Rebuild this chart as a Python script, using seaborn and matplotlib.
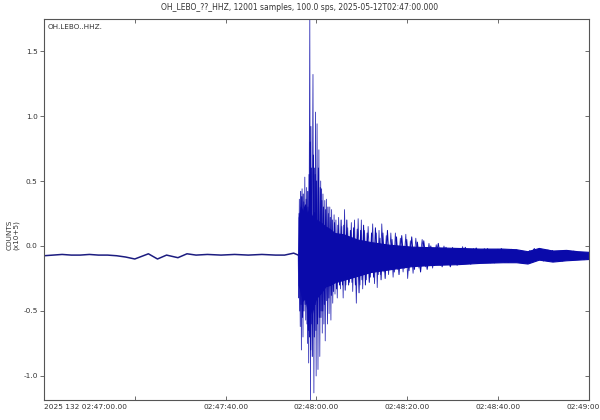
import matplotlib
matplotlib.use("Agg")
import numpy as np
import pandas as pd
import matplotlib.pyplot as plt
import seaborn as sns
from matplotlib.ticker import FormatStrFormatter

# quiet trace before the event (seconds after 02:47:00, counts x1e5)
pre_t = [0, 2, 4, 6, 8, 10, 12, 14, 16, 18, 20, 21.5, 23, 25, 27, 29.5, 31.5,
         33.5, 36, 39, 42, 45, 48, 51, 53, 55, 56.0]
pre_y = [-0.075, -0.07, -0.065, -0.07, -0.07, -0.065, -0.07, -0.07, -0.075, -0.085,
         -0.10, -0.08, -0.06, -0.10, -0.07, -0.09, -0.06, -0.07, -0.065, -0.07,
         -0.065, -0.07, -0.065, -0.07, -0.07, -0.055, -0.07]

# solid core of the coda
core_t = [56.0, 56.1, 56.6, 57.0, 57.5, 58.0, 58.5, 59.0, 59.5, 60.0, 61.0, 62.0, 63.0, 64.0,
          66.0, 69.0, 72.0, 76.0, 81.0, 86.0, 91.0, 96.0, 101.0, 104.0, 106.5, 109.0, 112.0,
          115.0, 117.5, 120.0]
core_hi = [-0.06, 0.22, 0.30, 0.26, 0.32, 0.24, 0.30, 0.22, 0.26, 0.20, 0.18, 0.15, 0.13, 0.10,
           0.09, 0.05, 0.03, 0.01, -0.005, -0.01, -0.015, -0.02, -0.02, -0.025, -0.04, -0.015,
           -0.035, -0.03, -0.04, -0.045]
core_lo = [-0.08, -0.30, -0.36, -0.42, -0.40, -0.48, -0.45, -0.52, -0.44, -0.40, -0.36, -0.31,
           -0.30, -0.28, -0.26, -0.23, -0.20, -0.18, -0.155, -0.145, -0.14, -0.13, -0.125,
           -0.125, -0.135, -0.105, -0.12, -0.11, -0.105, -0.10]

# largest peaks and troughs
spike_t = [56.0, 56.1, 56.25, 56.45, 56.6, 56.7, 56.85, 57.05, 57.2, 57.3, 57.45, 57.65, 57.85,
           58.05, 58.15, 58.3, 58.55, 58.7, 58.8, 58.95, 59.25, 59.45, 59.6, 59.7, 59.8, 59.95,
           60.15, 60.35, 60.55, 60.75, 60.95, 61.05, 61.15, 61.3, 61.45, 61.65, 61.85, 61.95,
           62.2, 62.45, 62.65, 62.8, 62.95, 63.2, 63.35, 63.6, 63.9, 64.1, 64.3, 64.6, 64.9,
           65.3, 65.6, 65.9, 66.2, 66.5, 66.9, 67.3, 67.7, 68.0, 68.4, 68.8, 69.2, 69.6, 69.9,
           70.2, 70.6, 71.0, 71.4, 71.9, 72.4, 72.8, 73.2, 73.4, 73.8, 74.1, 74.4, 74.9, 75.4,
           75.9, 76.4, 76.9, 77.4, 77.9, 78.5, 79.1, 79.7, 80.1, 80.7, 81.3, 81.9, 82.6, 83.3,
           84.0, 84.8, 85.6, 86.4, 87.3, 88.1, 89.0, 90.0, 91.0, 92.2, 93.4, 94.6, 95.8, 97.0,
           98.4, 100.0, 101.5, 103.0, 105.0, 107.0, 109.0, 111.0, 113.0, 115.5, 118.0, 120.0]
spike_y = [-0.07, -0.40, 0.36, -0.62, 0.30, -0.80, 0.44, -0.70, 0.34, -0.32, 0.53, -0.57, 0.45,
           -0.75, 0.30, -0.90, 1.746, -1.185, 0.92, -0.60, 1.32, -1.13, 0.60, -0.45, 1.03, -1.00,
           0.94, -0.95, 0.74, -0.85, 0.50, -0.50, 0.44, -0.67, 0.40, -0.60, 0.35, -0.73,
           0.36, -0.60, 0.25, -0.52, 0.30, -0.57, 0.28, -0.44, 0.24, -0.37, 0.20, -0.40, 0.22,
           -0.33, 0.15, -0.40, 0.28, -0.30, 0.14, -0.28, 0.18, -0.35, 0.20, -0.44, 0.21, -0.30, 0.20,
           -0.33, 0.12, -0.26, 0.15, -0.24, 0.17, -0.29, 0.10, -0.32, 0.12, -0.22, 0.17, -0.20, 0.08,
           -0.22, 0.10, -0.24, 0.10, -0.18, 0.06, -0.20, 0.09, -0.25, 0.04, -0.21, 0.06, -0.17, 0.05,
           -0.16, 0.02, -0.17, 0.01, -0.15, 0.0, -0.14, -0.01, -0.15, -0.005, -0.13, -0.02, -0.13, -0.02,
           -0.13, -0.025, -0.125, -0.025, -0.12, -0.035, -0.11, -0.03, -0.11, -0.04, -0.10, -0.07]

# smaller swings between the big ones
wig_t = [56.2, 56.35, 56.55, 56.65, 56.8, 56.95, 57.1, 57.25, 57.4, 57.55, 57.75, 57.95, 58.1,
         58.25, 58.4, 58.5, 58.65, 58.75, 58.9, 59.1, 59.35, 59.55, 59.75, 59.9, 60.05, 60.25,
         60.45, 60.65, 60.85, 61.0, 61.2, 61.4, 61.55, 61.75, 62.05, 62.3, 62.55, 62.75, 63.05,
         63.3, 63.5, 63.75, 64.0, 64.45, 64.75, 65.1, 65.45, 65.75, 66.05, 66.35, 66.7, 67.1,
         67.5, 67.85, 68.2, 68.6, 69.0, 69.4, 69.75, 70.05, 70.4, 70.8, 71.2, 71.65, 72.15, 72.6,
         73.0, 73.6, 74.0, 74.25, 74.65, 75.15, 75.65, 76.15, 76.65, 77.15, 77.65, 78.2, 78.8,
         79.4, 79.9, 80.4, 81.0, 81.6, 82.25, 82.95, 83.65, 84.4, 85.2, 86.0, 86.85, 87.7, 88.55,
         89.5, 90.5, 91.6, 92.8, 94.0, 95.2, 96.4, 97.7, 99.2, 100.75, 102.25, 104.0, 106.0,
         108.0, 110.0, 112.0, 114.2, 116.7, 119.0]
wig_y = [0.25, -0.50, 0.42, -0.45, 0.38, -0.55, 0.40, -0.50, 0.30, -0.45, 0.36, -0.60, 0.42,
         -0.65, 0.55, -0.70, 0.80, -0.80, 0.60, -0.85, 0.70, -0.70, 0.55, -0.65, 0.50, -0.60,
         0.60, -0.55, 0.45, -0.55, 0.35, -0.50, 0.30, -0.45, 0.28, -0.42, 0.30, -0.40, 0.22,
         -0.38, 0.20, -0.35, 0.18, -0.33, 0.16, -0.30, 0.20, -0.30, 0.16, -0.34, 0.20, -0.30,
         0.12, -0.28, 0.14, -0.30, 0.13, -0.36, 0.12, -0.26, 0.16, -0.30, 0.10, -0.28, 0.10, -0.24,
         0.14, -0.22, 0.06, -0.26, 0.10, -0.25, 0.12, -0.18, 0.05, -0.20, 0.07, -0.22, 0.08,
         -0.17, 0.05, -0.19, 0.07, -0.18, 0.03, -0.20, 0.04, -0.18, 0.0, -0.15, 0.02, -0.16, -0.01,
         -0.16, -0.02, -0.13, -0.01, -0.14, -0.015, -0.125, -0.02, -0.13, -0.02, -0.125, -0.03, -0.13,
         -0.02, -0.115, -0.035, -0.115, -0.04, -0.105]

xticks = [0, 20, 40, 60, 80, 100, 120]
xlabels = ['2025 132 02:47:00.00', '', '02:47:40.00', '02:48:00.00',
           '02:48:20.00', '02:48:40.00', '02:49:00.00']
yticks = [-1.0, -0.5, 0.0, 0.5, 1.0, 1.5]

sns.set_style("white")
plt.rcParams['font.family'] = ['DejaVu Sans']

trace_col = '#0a0aaa'
fig = plt.figure(figsize=(6, 4.2), dpi=100)
ax = fig.add_axes([0.0733, 0.0476, 0.908, 0.907])

pre = pd.DataFrame({'t': pre_t, 'y': pre_y})
spk = pd.DataFrame({'t': spike_t, 'y': spike_y})
wig = pd.DataFrame({'t': wig_t, 'y': wig_y})

sns.lineplot(data=pre, x='t', y='y', ax=ax, color='#1c1c80', lw=1.1, sort=False)
ax.fill_between(core_t, core_lo, core_hi, color=trace_col, lw=0.8, edgecolor=trace_col)
sns.lineplot(data=wig, x='t', y='y', ax=ax, color=trace_col, lw=0.7, sort=False)
sns.lineplot(data=spk, x='t', y='y', ax=ax, color=trace_col, lw=0.6, alpha=0.85, sort=False)

ax.set_xlim(0, 120)
ax.set_ylim(-1.185, 1.746)
ax.set_xticks(xticks)
ax.set_xticklabels(xlabels)
ax.get_xticklabels()[0].set_ha('left')
ax.set_yticks(yticks)
ax.yaxis.set_major_formatter(FormatStrFormatter('%.1f'))
ax.set_xlabel('')
ax.set_ylabel('')

for s in ax.spines.values():
    s.set_color('#555555')
    s.set_linewidth(0.8)
ax.tick_params(axis='x', direction='in', top=True, bottom=True, length=3, width=0.6,
               labelsize=5.3, colors='#555555', labelcolor='#333333', pad=3)
ax.tick_params(axis='y', direction='out', left=True, length=3, width=0.6,
               labelsize=5.3, colors='#555555', labelcolor='#333333', pad=1.5)
right = ax.secondary_yaxis('right')
right.set_yticks(yticks)
right.tick_params(direction='in', length=3, width=0.6, labelright=False, colors='#555555')
right.spines['right'].set_visible(False)

ax.text(0.006, 0.988, 'OH.LEBO..HHZ.', transform=ax.transAxes, fontsize=5.2,
        ha='left', va='top', color='#333333')
fig.text(0.5, 0.983, 'OH_LEBO_??_HHZ, 12001 samples, 100.0 sps, 2025-05-12T02:47:00.000',
         ha='center', va='center', fontsize=5.5, color='#333333')
fig.text(0.022, 0.44, 'COUNTS\n(x10+5)', rotation=90, ha='center', va='center',
         fontsize=5.2, color='#333333', linespacing=1.1)

fig.savefig('out.png', dpi=100)
